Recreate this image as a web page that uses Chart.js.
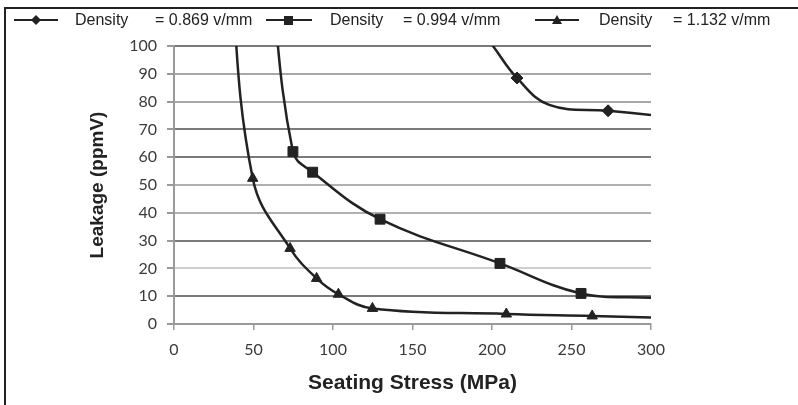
<!DOCTYPE html>
<html lang="en">
<head>
  <meta charset="UTF-8">
  <title>Leakage vs Seating Stress</title>
  <script src="https://cdn.jsdelivr.net/npm/chart.js"></script>
  <style>
    body {
      margin: 0;
      background: #fff;
      font-family: "Liberation Sans", Arial, sans-serif;
    }
    .frame {
      position: relative;
      width: 798px;
      height: 405px;
      overflow: hidden;
    }
    .frame::before {
      content: "";
      position: absolute;
      left: 4px;
      top: 7px;
      right: 0;
      bottom: 0;
      border-left: 2px solid #222;
      border-top: 2px solid #222;
    }
    .legend span {
      position: absolute;
      top: 11px;
      font-size: 16px;
      color: #222;
      white-space: nowrap;
    }
    .legend svg {
      position: absolute;
      top: 12px;
    }
    canvas {
      position: absolute;
      left: 0;
      top: 0;
    }
  </style>
</head>
<body>
  <div class="frame">
    <canvas id="leakChart" width="798" height="405"></canvas>
    <div class="legend">
      <svg style="left:14px" width="46" height="16"><line x1="0" y1="8" x2="44" y2="8" stroke="#222" stroke-width="2"/><polygon points="22,3 27,8 22,13 17,8" fill="#222"/></svg>
      <span style="left:75px">Density</span>
      <span style="left:155px">= 0.869 v/mm</span>
      <svg style="left:266px" width="46" height="16"><line x1="0" y1="8" x2="46" y2="8" stroke="#222" stroke-width="2"/><rect x="18" y="4" width="9" height="9" fill="#222"/></svg>
      <span style="left:330px">Density</span>
      <span style="left:403px">= 0.994 v/mm</span>
      <svg style="left:535px" width="46" height="16"><line x1="0" y1="8" x2="44" y2="8" stroke="#222" stroke-width="2"/><polygon points="22,3 27,12 17,12" fill="#222"/></svg>
      <span style="left:599px">Density</span>
      <span style="left:673px">= 1.132 v/mm</span>
    </div>
  </div>

  <script>
    // seating stress (MPa) / leakage (ppmV)
    // first and last entries of each series only carry the curve to the plot edges
    const stress869 = [186, 200.6, 215.7, 236, 273, 300];
    const leak869 = [111, 100, 88.5, 78.8, 76.7, 75.2];
    const marker869 = [0, 0, 1, 0, 1, 0];

    const stress994 = [60, 74.8, 87.2, 129.6, 205, 256, 300];
    const leak994 = [130, 62, 54.6, 37.7, 21.8, 11, 9.4];
    const marker994 = [0, 1, 1, 1, 1, 1, 0];

    const stress1132 = [34, 49.5, 73, 89.7, 103.4, 124.8, 209, 263, 300];
    const leak1132 = [140, 52.4, 27.2, 16.4, 10.7, 5.6, 3.6, 2.9, 2.3];
    const marker1132 = [0, 1, 1, 1, 1, 1, 1, 1, 0];

    const xTicks = [0, 50, 100, 150, 200, 250, 300];
    const yTicks = [0, 10, 20, 30, 40, 50, 60, 70, 80, 90, 100];

    function toPoints(xs, ys) {
      return xs.map((x, i) => ({ x: x, y: ys[i] }));
    }

    function series(label, xs, ys, marks, style, size) {
      return {
        label: label,
        data: toPoints(xs, ys),
        borderColor: '#222',
        backgroundColor: '#222',
        borderWidth: 2.5,
        pointStyle: style,
        pointRadius: marks.map(m => m ? size : 0),
        pointBorderWidth: 1,
        tension: 0.4,
        fill: false,
      };
    }

    // horizontal gridlines in the scan are not all the same shade
    const gridShade = {
      100: '#7a7a7a', 90: '#a8a8a8', 80: '#a8a8a8', 70: '#7a7a7a', 60: '#7a7a7a',
      50: '#b0b0b0', 40: '#b0b0b0', 30: '#7a7a7a', 20: '#cfcfcf', 10: '#7a7a7a', 0: '#8c8c8c'
    };

    const tickFont = { family: 'Lato, "Open Sans", sans-serif', size: 16 };
    const titleFamily = '"Liberation Sans Narrow", "Arial Narrow", Arial, sans-serif';

    new Chart(document.getElementById('leakChart').getContext('2d'), {
      type: 'line',
      data: {
        datasets: [
          series('Density = 0.869 v/mm', stress869, leak869, marker869, 'rectRot', 6),
          series('Density = 0.994 v/mm', stress994, leak994, marker994, 'rect', 7),
          series('Density = 1.132 v/mm', stress1132, leak1132, marker1132, 'triangle', 6),
        ],
      },
      options: {
        responsive: false,
        animation: false,
        layout: { padding: { left: 0, top: 46, right: 147, bottom: 0 } },
        plugins: {
          legend: { display: false },
          tooltip: { enabled: false },
        },
        scales: {
          x: {
            type: 'linear',
            min: 0,
            max: 300,
            afterBuildTicks: (scale) => { scale.ticks = xTicks.map(v => ({ value: v })); },
            afterFit: (scale) => { scale.height = 81; },
            ticks: { font: tickFont, color: '#3a3a3a', padding: 10, maxRotation: 0 },
            grid: { drawOnChartArea: false, tickLength: 6, tickColor: '#999', lineWidth: 1.5 },
            border: { color: '#999', width: 2 },
            title: {
              display: true,
              text: 'Seating Stress (MPa)',
              color: '#222',
              font: { family: titleFamily, size: 21, weight: 'bold' },
              padding: { top: 0, bottom: 9 },
            },
          },
          y: {
            min: 0,
            max: 100,
            afterBuildTicks: (scale) => { scale.ticks = yTicks.map(v => ({ value: v })); },
            afterFit: (scale) => { scale.width = 174; },
            ticks: { font: tickFont, color: '#3a3a3a', padding: 10 },
            grid: {
              color: (ctx) => gridShade[ctx.tick ? ctx.tick.value : 0] || '#999',
              lineWidth: 2,
              tickLength: 7,
              tickColor: '#999',
            },
            border: { color: '#999', width: 2 },
            title: {
              display: true,
              text: 'Leakage (ppmV)',
              color: '#222',
              font: { family: titleFamily, size: 19, weight: 'bold' },
              padding: { top: 86, bottom: 0 },
            },
          },
        },
      },
    });
  </script>
</body>
</html>
